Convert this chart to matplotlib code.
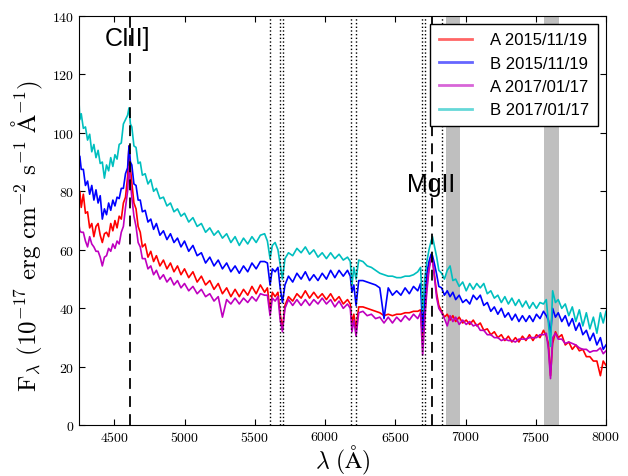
"""
Spectra of lensed quasar images A and B at two epochs.
"""
import matplotlib
matplotlib.use("Agg")
import matplotlib.pyplot as plt

plt.rcParams["mathtext.fontset"] = "cm"
plt.rcParams["font.family"] = "cmr10"
plt.rcParams["axes.formatter.use_mathtext"] = True

# %%
# Spectra (flux in 1e-17 erg/cm2/s/A)
# ----------------------------------------------------------

wave = [
    4245, 4255, 4265, 4280, 4295, 4310, 4325, 4340, 4355, 4370,
    4385, 4400, 4415, 4430, 4445, 4460, 4475, 4490, 4505, 4520,
    4535, 4550, 4565, 4580, 4595, 4605, 4615, 4625, 4640, 4655,
    4670, 4685, 4700, 4720, 4740, 4760, 4780, 4800, 4825, 4850,
    4875, 4900, 4925, 4950, 4975, 5000, 5030, 5060, 5090, 5120,
    5150, 5180, 5210, 5240, 5270, 5300, 5330, 5360, 5390, 5420,
    5450, 5480, 5510, 5540, 5570, 5590, 5609, 5625, 5645, 5665,
    5681, 5697, 5715, 5740, 5770, 5800, 5830, 5860, 5890, 5920,
    5950, 5980, 6010, 6040, 6070, 6100, 6130, 6160, 6180, 6192,
    6205, 6221, 6240, 6270, 6300, 6330, 6360, 6390, 6420, 6450,
    6480, 6510, 6540, 6570, 6600, 6630, 6660, 6680, 6695, 6710,
    6725, 6740, 6755, 6765, 6780, 6795, 6810, 6830, 6850, 6870,
    6890, 6910, 6930, 6955, 6980, 7005, 7030, 7055, 7080, 7105,
    7130, 7155, 7180, 7205, 7230, 7255, 7280, 7305, 7330, 7355,
    7380, 7405, 7430, 7455, 7480, 7505, 7530, 7555, 7575, 7590,
    7605, 7620, 7640, 7660, 7685, 7710, 7735, 7760, 7785, 7810,
    7835, 7860, 7885, 7910, 7935, 7960, 7980, 8000,
]

flux_a_2015 = [
    75, 80, 74.5, 79, 72.5, 73, 67.5, 69, 64.5, 68,
    69, 65, 62.5, 65.5, 66, 64.5, 69, 66.5, 70, 67.5,
    71.5, 70.5, 76, 78, 85, 95.5, 88, 83, 76, 74,
    68, 66, 61, 62, 57.5, 59.5, 56, 58, 54.5, 56.5,
    53.5, 55.5, 52.5, 54.5, 51.5, 53.5, 50.5, 52.5, 49, 51,
    48, 49.5, 46.5, 48.5, 45, 47, 44, 46.5, 44, 46.5,
    44.5, 47.5, 45, 48, 45.5, 47, 39, 45.5, 44, 45.5,
    38, 33, 41, 44, 42.5, 45, 43.5, 46, 43.5, 45.5,
    43.5, 45, 43, 45, 42.5, 44, 41.5, 43, 41.5, 35,
    38, 33, 40.5, 40.5, 40, 39.5, 39, 38.5, 37.5, 38,
    37.5, 38, 38, 38.5, 38.5, 39, 39, 39.5, 28.5, 38,
    48, 54, 58, 57, 51, 45, 41, 39, 37, 38,
    36, 37.5, 35.5, 37, 35, 36, 34.5, 36, 34, 35,
    32.5, 33, 31, 32, 30, 31, 29, 30.5, 28.5, 30,
    28.5, 30.5, 29, 31, 29, 31, 30, 32.5, 30.5, 28,
    17, 28, 32, 30, 31, 27.5, 28.5, 26, 27.5, 25.5,
    26, 23.5, 23.5, 22, 22, 17, 22, 20.5,
]

flux_b_2015 = [
    87, 92, 87.5, 87.5, 82, 83.5, 79, 82, 77, 80.5,
    76, 78.5, 70.5, 74, 72, 76, 73.5, 77, 75, 78,
    77.5, 81, 81, 86, 88, 95.5, 90, 89, 82.5, 82,
    77, 77, 73, 73.5, 69.5, 70.5, 67, 69, 65, 66.5,
    63.5, 65.5, 62.5, 64, 61, 63, 59.5, 61.5, 58, 59,
    55.5, 57.5, 54.5, 56.5, 53.5, 55.5, 52.5, 54.5, 52, 54.5,
    52.5, 55.5, 53.5, 56, 56, 55.5, 48, 53.5, 52.5, 54,
    47, 42, 48, 51, 49, 52, 50, 52.5, 49.5, 51.5,
    49.5, 52, 50, 53, 50.5, 53, 51, 53, 51, 45.5,
    48, 41, 49.5, 49.5, 49, 48.5, 48, 47, 36.5, 47,
    44.5, 46, 44.5, 47, 45, 47.5, 46, 48.5, 32, 44,
    52, 56, 58.5, 58, 55, 51.5, 47.5, 47, 44.5, 46,
    44, 45.5, 43, 44.5, 42, 43, 41.5, 44.5, 43, 44.5,
    41, 42, 39, 40.5, 38, 40, 37, 38.5, 36, 38,
    35.5, 37.5, 35.5, 37.5, 35.5, 38, 36.5, 39, 37.5, 36,
    31, 40, 37, 38.5, 35.5, 37.5, 34, 36.5, 32.5, 35,
    31, 32.5, 29, 31.5, 27.5, 30, 26, 27.5,
]

flux_a_2017 = [
    70, 66.5, 66, 66, 63, 61, 64.5, 62, 61, 59.5,
    59.5, 57.5, 54.5, 57.5, 58, 60.5, 59.5, 62, 60.5, 63,
    62, 66, 68, 74.5, 80, 88.5, 83, 78, 71.5, 68,
    62.5, 61, 57, 57, 53.5, 54.5, 51.5, 53, 50, 51.5,
    49, 50.5, 48, 49.5, 47, 48.5, 46, 47.5, 45, 46.5,
    44, 45, 42.5, 44, 37, 43, 41.5, 43.5, 41.5, 43.5,
    42, 44, 42.5, 45, 44.5, 44.5, 37.5, 43.5, 42.5, 44,
    36, 32, 40, 43, 41, 43, 41, 43, 41, 43,
    41.5, 43.5, 41.5, 43, 40.5, 42.5, 40, 41.5, 40, 32,
    36, 30.5, 38.5, 39, 37.5, 38, 36.5, 37, 35, 37,
    35, 37, 35.5, 37.5, 36, 38, 36.5, 38.5, 24, 36,
    46, 53, 57, 56.5, 50, 43.5, 40, 38.5, 36.5, 34,
    37.5, 35.5, 37, 34.5, 36, 34.5, 35.5, 34, 34.5, 32.5,
    32.5, 31, 31, 30, 30, 29, 29.5, 29, 29, 28.5,
    29.5, 29.5, 29.5, 30, 30, 30, 31, 31, 31.5, 26,
    16, 30, 31.5, 29.5, 29.5, 28, 28.5, 28, 27.5, 26.5,
    26, 26, 25, 25.5, 25.5, 26.5, 24.5, 25.5,
]

flux_b_2017 = [
    115, 104.5, 106.5, 101.5, 102, 97.5, 99.5, 93.5, 96, 91.5,
    94, 89.5, 90, 84.5, 89, 87, 91.5, 88.5, 92.5, 91,
    96, 96.5, 103, 104.5, 106, 108.5, 103, 102, 95.5, 95,
    89.5, 90, 85.5, 86, 82.5, 84, 80, 81, 77.5, 78,
    75, 76, 73, 74, 71.5, 72.5, 69.5, 71, 68, 69,
    66, 67.5, 65, 66.5, 64, 65.5, 62.5, 64.5, 61.5, 64,
    62, 64.5, 62.5, 65, 65.5, 63, 57, 61.5, 62.5, 60,
    55, 50, 57, 59, 58, 60.5, 59, 61, 58.5, 60,
    57.5, 59, 57, 59, 57, 58.5, 56.5, 57.5, 56, 48,
    54, 50, 56.5, 56, 54.5, 54, 53, 52, 51.5, 51,
    51, 50.5, 50.5, 51, 51, 51.5, 52.5, 54, 39, 50,
    56, 60, 63, 64.5, 61, 57.5, 53, 52, 50, 53,
    54.5, 49.5, 50, 47.5, 49, 46, 48.5, 46.5, 48.5, 47,
    48.5, 45, 46, 43.5, 44.5, 42, 44, 41.5, 43.5, 41,
    43, 40.5, 42.5, 40, 42, 40, 42, 41.5, 43, 35,
    27, 46, 42, 43, 40, 41.5, 37.5, 40.5, 35.5, 39.5,
    34, 38.5, 33, 37, 31.5, 38.5, 35, 39,
]

spectra = [flux_a_2015, flux_b_2015, flux_a_2017, flux_b_2017]
colors = ["r", "b", "m", "c"]
labels = ["A 2015/11/19", "B 2015/11/19", "A 2017/01/17", "B 2017/01/17"]

# Emission lines and absorbers
emission_lines = [4610, 6762]
emission_names = ["CIII]", "MgII"]
emission_text_pos = [(4430, 130), (6580, 80)]
absorbers = [5609, 5681, 5704, 6188, 6221, 6693, 6711, 6831]
telluric_bands = [(6860, 6960), (7560, 7665)]

# %%
# Plot
# ----

fig = plt.figure(figsize=(6.28, 4.77), dpi=100)
ax = fig.add_axes([0.126, 0.106, 0.839, 0.859])

for lo, hi in telluric_bands:
    ax.axvspan(lo, hi, color="grey", alpha=0.5, lw=0, zorder=0)

for flux, color, label in zip(spectra, colors, labels):
    ax.plot(wave, flux, color=color, lw=1.2, label=label)

for x in absorbers:
    ax.axvline(x, color="k", ls=":", lw=1.0)
for x in emission_lines:
    ax.axvline(x, color="k", ls="--", dashes=(6, 4), lw=1.3)
for name, (tx, ty) in zip(emission_names, emission_text_pos):
    ax.text(tx, ty, name, fontsize=18, family="Liberation Sans")

ax.set_xlim(4250, 8000)
ax.set_ylim(0, 140)
ax.set_xticks(range(4500, 8001, 500))
ax.set_yticks(range(0, 141, 20))
ax.tick_params(direction="in", top=True, right=True, length=4, labelsize=10)

ax.set_xlabel(r"$\lambda\ (\mathrm{\AA})$", fontsize=17, labelpad=-1)
ax.set_ylabel(
    r"$\mathrm{F_{\lambda}\ (10^{-17}\ erg\ cm^{-2}\ s^{-1}\ \AA^{-1})}$",
    fontsize=18,
)
ax.yaxis.set_label_coords(-0.064, 0.466)

leg = ax.legend(
    loc="upper right",
    prop={"family": "Liberation Sans", "size": 12},
    fancybox=False,
    framealpha=1,
    edgecolor="k",
    handletextpad=1.1,
    borderpad=0.5,
)
for h in leg.legend_handles:
    h.set_alpha(0.6)
    h.set_linewidth(2)

fig.savefig("out.png", dpi=100)
